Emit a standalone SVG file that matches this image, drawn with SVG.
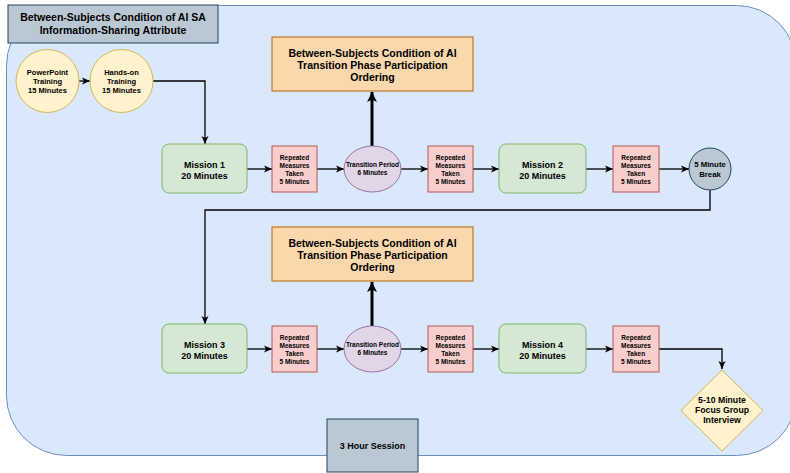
<svg xmlns="http://www.w3.org/2000/svg" width="790" height="473" viewBox="0 0 790 473">
<style>
text{font-family:"Liberation Sans",Arial,sans-serif;font-weight:bold;fill:#000;text-anchor:middle}
.grey{fill:#bac8d3;stroke:#23445d;stroke-width:1}
.orange{fill:#fad7ac;stroke:#b46504;stroke-width:1}
.green{fill:#d5e8d4;stroke:#82b366;stroke-width:1}
.red{fill:#f8cecc;stroke:#b85450;stroke-width:1}
.purple{fill:#e1d5e7;stroke:#9673a6;stroke-width:1}
.yellow{fill:#fff2cc;stroke:#d6b656;stroke-width:1}
.edge{fill:none;stroke:#000;stroke-width:1.3;marker-end:url(#arr)}
.thick{fill:none;stroke:#000;stroke-width:3;marker-end:url(#arrT)}
.t105{font-size:10.5px}.t9{font-size:9px}.t75{font-size:7.5px}.t65{font-size:6.5px}.t8{font-size:7.8px}.t87{font-size:8.7px}
</style>
<defs>
<marker id="arr" markerUnits="userSpaceOnUse" markerWidth="10" markerHeight="10" viewBox="0 0 10 10" refX="9" refY="5" orient="auto">
<path d="M1,1.5 L9,5 L1,8.5 L3,5 Z" fill="#000"/>
</marker>
<marker id="arrT" markerUnits="userSpaceOnUse" markerWidth="12" markerHeight="12" viewBox="0 0 12 12" refX="11" refY="6" orient="auto">
<path d="M1,1 L11,6 L1,11 L3.5,6 Z" fill="#000"/>
</marker>
</defs>
<g id="session-bg"><rect x="6.5" y="5.5" width="790" height="450" rx="60" ry="60" fill="#dae8fc" stroke="#6c8ebf" stroke-width="1"/></g>
<g id="connectors">
<path class="edge" d="M79,81 L90,81"/>
<path class="edge" d="M153,81 L205,81 L205,144"/>
<path class="edge" d="M247,169 L272,169"/>
<path class="edge" d="M317,169 L344,169"/>
<path class="edge" d="M401,169 L428,169"/>
<path class="edge" d="M473,169 L499,169"/>
<path class="edge" d="M586,169 L613,169"/>
<path class="edge" d="M659,169 L689,169"/>
<path class="edge" d="M710,190 L710,210 L205,210 L205,324"/>
<path class="edge" d="M247,349 L272,349"/>
<path class="edge" d="M317,349 L344,349"/>
<path class="edge" d="M401,349 L428,349"/>
<path class="edge" d="M473,349 L499,349"/>
<path class="edge" d="M586,349 L613,349"/>
<path class="edge" d="M659,349 L722,349 L722,369"/>
<path class="thick" d="M372,146 L372,92"/>
<path class="thick" d="M372,326 L372,282"/>
</g>
<g id="title"><rect class="grey" x="8" y="5" width="210" height="38"/>
<text class="t105" x="113" y="21">Between-Subjects Condition of AI SA</text>
<text class="t105" x="113" y="34">Information-Sharing Attribute</text></g>
<g id="powerpoint"><circle class="yellow" cx="47.5" cy="81" r="31.5"/>
<text class="t75" x="47.5" y="75">PowerPoint</text><text class="t75" x="47.5" y="84">Training</text><text class="t75" x="47.5" y="93">15 Minutes</text></g>
<g id="handson"><circle class="yellow" cx="121.5" cy="81" r="31.5"/>
<text class="t75" x="121.5" y="75">Hands-on</text><text class="t75" x="121.5" y="84">Training</text><text class="t75" x="121.5" y="93">15 Minutes</text></g>
<g id="cond1"><rect class="orange" x="272" y="37" width="201" height="54"/>
<text class="t105" x="372.5" y="56.5">Between-Subjects Condition of AI</text>
<text class="t105" x="372.5" y="68.5">Transition Phase Participation</text>
<text class="t105" x="372.5" y="81">Ordering</text></g>
<g id="mission1"><rect class="green" x="162" y="144" width="85" height="49" rx="7"/>
<text class="t9" x="204.5" y="167.5">Mission 1</text><text class="t9" x="204.5" y="178.5">20 Minutes</text></g>
<g id="rm1"><rect class="red" x="272" y="146" width="45" height="46"/>
<text class="t65" x="294.5" y="159.5">Repeated</text><text class="t65" x="294.5" y="167.5">Measures</text><text class="t65" x="294.5" y="175.5">Taken</text><text class="t65" x="294.5" y="183.5">5 Minutes</text></g>
<g id="transition1"><ellipse class="purple" cx="372.5" cy="169" rx="28.5" ry="23"/>
<text class="t65" x="372.5" y="167">Transition Period</text><text class="t65" x="372.5" y="175">6 Minutes</text></g>
<g id="rm2"><rect class="red" x="428" y="146" width="45" height="46"/>
<text class="t65" x="450.5" y="159.5">Repeated</text><text class="t65" x="450.5" y="167.5">Measures</text><text class="t65" x="450.5" y="175.5">Taken</text><text class="t65" x="450.5" y="183.5">5 Minutes</text></g>
<g id="mission2"><rect class="green" x="499" y="144" width="87" height="49" rx="7"/>
<text class="t9" x="542.5" y="167.5">Mission 2</text><text class="t9" x="542.5" y="178.5">20 Minutes</text></g>
<g id="rm3"><rect class="red" x="613" y="146" width="46" height="46"/>
<text class="t65" x="636" y="159.5">Repeated</text><text class="t65" x="636" y="167.5">Measures</text><text class="t65" x="636" y="175.5">Taken</text><text class="t65" x="636" y="183.5">5 Minutes</text></g>
<g id="break"><circle class="grey" cx="710" cy="169" r="21"/>
<text class="t8" x="710" y="167">5 Minute</text><text class="t8" x="710" y="177">Break</text></g>
<g id="cond2"><rect class="orange" x="272" y="227" width="201" height="54"/>
<text class="t105" x="372.5" y="246.5">Between-Subjects Condition of AI</text>
<text class="t105" x="372.5" y="258.5">Transition Phase Participation</text>
<text class="t105" x="372.5" y="271">Ordering</text></g>
<g id="mission3"><rect class="green" x="162" y="324" width="85" height="49" rx="7"/>
<text class="t9" x="204.5" y="347.5">Mission 3</text><text class="t9" x="204.5" y="358.5">20 Minutes</text></g>
<g id="rm4"><rect class="red" x="272" y="326" width="45" height="46"/>
<text class="t65" x="294.5" y="339.5">Repeated</text><text class="t65" x="294.5" y="347.5">Measures</text><text class="t65" x="294.5" y="355.5">Taken</text><text class="t65" x="294.5" y="363.5">5 Minutes</text></g>
<g id="transition2"><ellipse class="purple" cx="372.5" cy="349" rx="28.5" ry="23"/>
<text class="t65" x="372.5" y="347">Transition Period</text><text class="t65" x="372.5" y="355">6 Minutes</text></g>
<g id="rm5"><rect class="red" x="428" y="326" width="45" height="46"/>
<text class="t65" x="450.5" y="339.5">Repeated</text><text class="t65" x="450.5" y="347.5">Measures</text><text class="t65" x="450.5" y="355.5">Taken</text><text class="t65" x="450.5" y="363.5">5 Minutes</text></g>
<g id="mission4"><rect class="green" x="499" y="324" width="87" height="49" rx="7"/>
<text class="t9" x="542.5" y="347.5">Mission 4</text><text class="t9" x="542.5" y="358.5">20 Minutes</text></g>
<g id="rm6"><rect class="red" x="613" y="326" width="46" height="46"/>
<text class="t65" x="636" y="339.5">Repeated</text><text class="t65" x="636" y="347.5">Measures</text><text class="t65" x="636" y="355.5">Taken</text><text class="t65" x="636" y="363.5">5 Minutes</text></g>
<g id="focus"><polygon class="yellow" points="722,370 763,410.5 722,451 681,410.5"/>
<text class="t87" x="722" y="403">5-10 Minute</text><text class="t87" x="722" y="413">Focus Group</text><text class="t87" x="722" y="423">Interview</text></g>
<g id="session"><rect class="grey" x="327" y="419" width="91" height="53"/>
<text class="t9" x="372.5" y="448.5">3 Hour Session</text></g>
</svg>
